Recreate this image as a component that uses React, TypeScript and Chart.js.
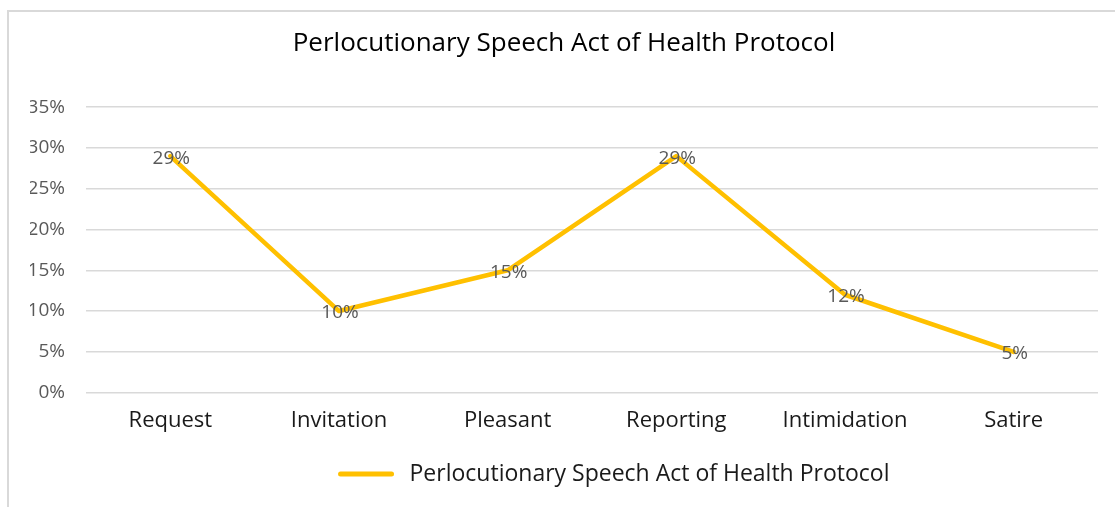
import React, { useEffect, useRef } from "react";
import { Chart, registerables } from "chart.js";

Chart.register(...registerables);

const categories = ["Request", "Invitation", "Pleasant", "Reporting", "Intimidation", "Satire"];
const seriesName = "Perlocutionary Speech Act of Health Protocol";
const seriesValues = [29, 10, 15, 29, 12, 5];
const yTicks = [0, 5, 10, 15, 20, 25, 30, 35];
const chartTitle = "Perlocutionary Speech Act of Health Protocol";

const FONT = "'Open Sans', 'DejaVu Sans', sans-serif";
const LINE_COLOR = "#FFC000";

const dataLabelPlugin = {
  id: "dataLabels",
  afterDatasetsDraw(chart: any) {
    const ctx = chart.ctx;
    const meta = chart.getDatasetMeta(0);
    const ds = chart.data.datasets[0];
    ctx.save();
    ctx.font = `19px ${FONT}`;
    ctx.fillStyle = "#595959";
    ctx.textAlign = "center";
    ctx.textBaseline = "middle";
    meta.data.forEach((pt: any, i: number) => {
      ctx.fillText(`${ds.data[i]}%`, pt.x + 1, pt.y + 2);
    });
    ctx.restore();
  },
};

const customLegendPlugin = {
  id: "customLegend",
  afterDraw(chart: any) {
    const ctx = chart.ctx;
    const area = chart.chartArea;
    const label = chart.data.datasets[0].label;
    ctx.save();
    ctx.font = `23px ${FONT}`;
    const tw = ctx.measureText(label).width;
    const lineLen = 55;
    const gap = 16;
    const total = lineLen + gap + tw;
    const cx = (area.left + area.right) / 2 + 22;
    const startX = cx - total / 2;
    const y = chart.height - 33;
    ctx.strokeStyle = LINE_COLOR;
    ctx.lineWidth = 5;
    ctx.lineCap = "round";
    ctx.beginPath();
    ctx.moveTo(startX + 2, y);
    ctx.lineTo(startX + lineLen - 2, y);
    ctx.stroke();
    ctx.fillStyle = "#1a1a1a";
    ctx.textAlign = "left";
    ctx.textBaseline = "middle";
    ctx.fillText(label, startX + lineLen + gap, y);
    ctx.restore();
  },
};

export default function App() {
  const canvasRef = useRef<HTMLCanvasElement | null>(null);

  useEffect(() => {
    if (!canvasRef.current) return;
    const chart = new Chart(canvasRef.current, {
      type: "line",
      data: {
        labels: categories,
        datasets: [
          {
            label: seriesName,
            data: seriesValues,
            borderColor: LINE_COLOR,
            backgroundColor: LINE_COLOR,
            borderWidth: 4.5,
            pointRadius: 0,
            tension: 0,
            borderCapStyle: "round",
            borderJoinStyle: "round",
          },
        ],
      },
      options: {
        animation: false,
        responsive: false,
        maintainAspectRatio: false,
        layout: { padding: { left: 30, right: 17, top: 0, bottom: 58 } },
        plugins: {
          title: {
            display: true,
            text: chartTitle,
            color: "#000000",
            font: { family: FONT, size: 26, weight: "normal" },
            padding: { top: 28, bottom: 48 },
          },
          legend: { display: false },
          tooltip: { enabled: false },
        },
        scales: {
          x: {
            offset: true,
            grid: { display: false, drawTicks: false },
            border: { display: false },
            ticks: {
              color: "#1a1a1a",
              font: { family: FONT, size: 22 },
              padding: 15,
              maxRotation: 0,
            },
          },
          y: {
            min: 0,
            max: 35,
            afterBuildTicks(scale: any) {
              scale.ticks = yTicks.map((v) => ({ value: v }));
            },
            afterFit(scale: any) {
              scale.width = 56;
            },
            grid: { color: "#d9d9d9", lineWidth: 1.5, drawTicks: false },
            border: { display: false },
            ticks: {
              color: "#595959",
              font: { family: FONT, size: 19 },
              padding: 21,
              callback: (v: any) => `${v}%`,
            },
          },
        },
      },
      plugins: [dataLabelPlugin, customLegendPlugin],
    });
    return () => chart.destroy();
  }, []);

  return (
    <div style={{ position: "fixed", left: 0, top: 0, width: 1115, height: 507, background: "#ffffff", overflow: "hidden" }}>
      <div
        style={{
          position: "absolute",
          left: 7,
          top: 10,
          width: 1400,
          height: 800,
          border: "2px solid #d9d9d9",
          boxSizing: "border-box",
        }}
      />
      <canvas ref={canvasRef} width={1115} height={507} style={{ position: "absolute", left: 0, top: 0, width: 1115, height: 507 }} />
    </div>
  );
}
